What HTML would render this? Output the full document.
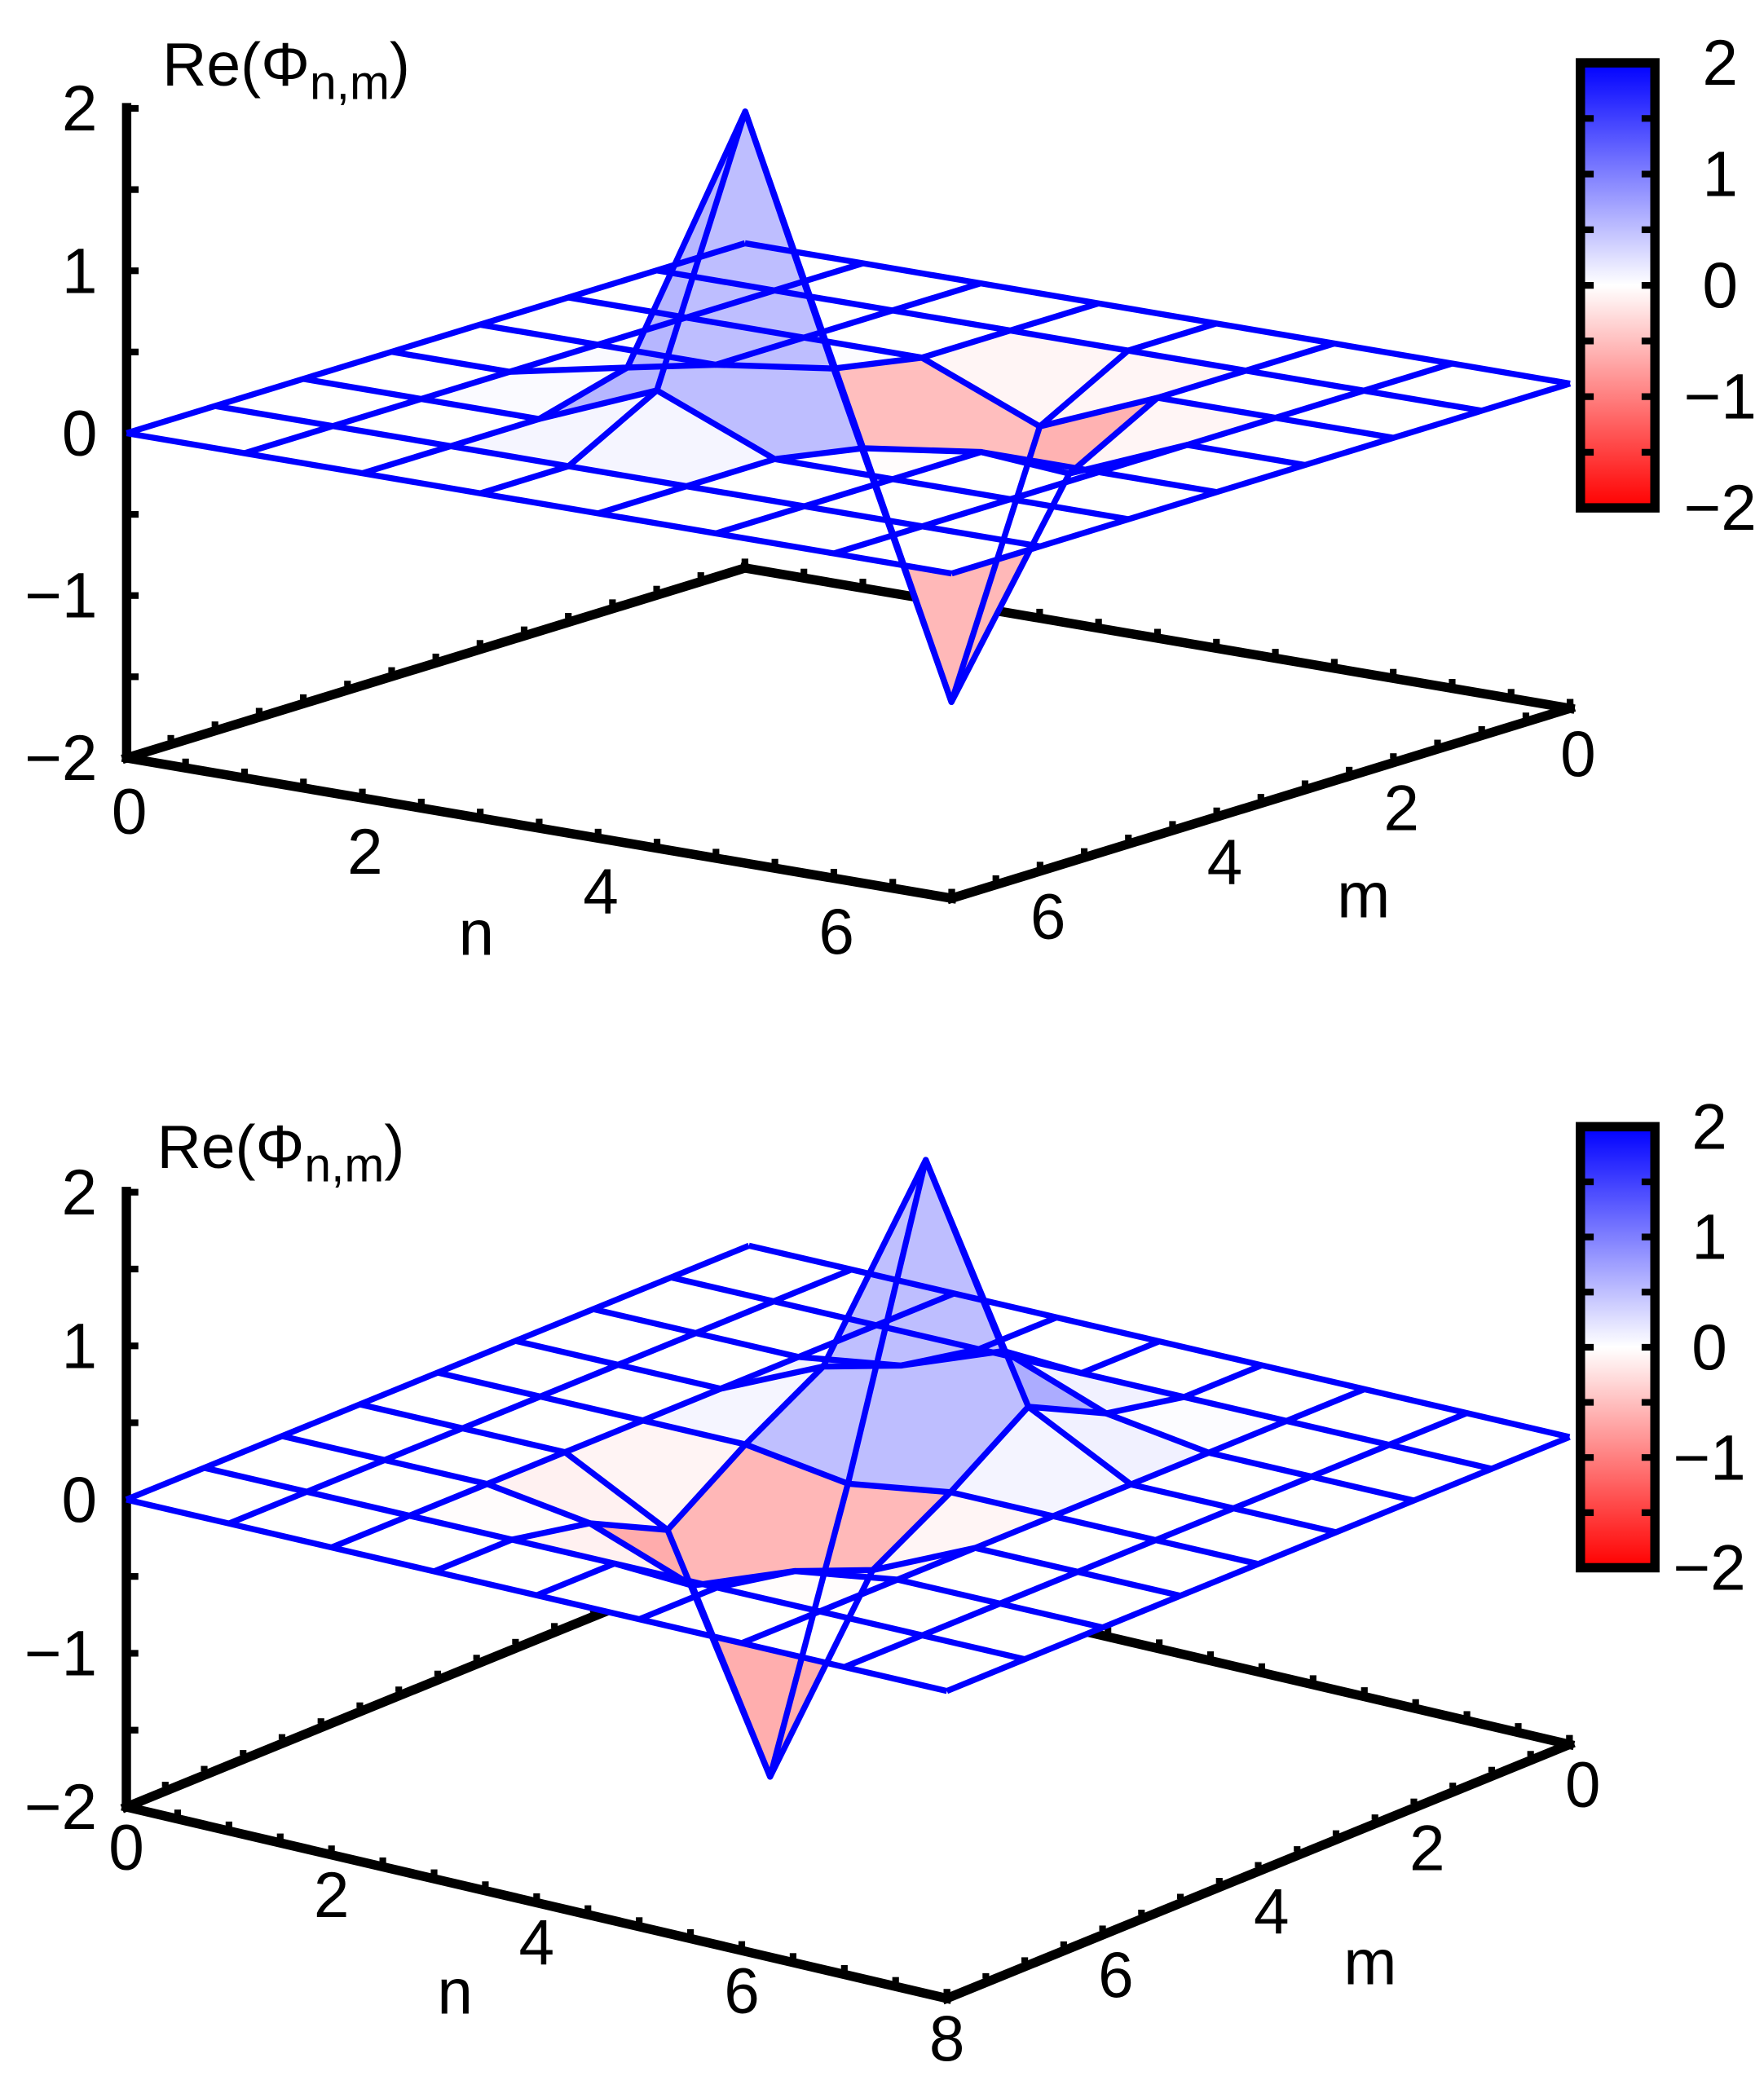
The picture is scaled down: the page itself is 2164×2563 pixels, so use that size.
<!DOCTYPE html>
<html><head><meta charset="utf-8"><style>
html,body{margin:0;padding:0;background:#fff;}
svg{display:block;font-family:"Liberation Sans",sans-serif;}
</style></head><body>
<svg id="fig" width="2164" height="2563" viewBox="0 0 1326 1563" preserveAspectRatio="none" xmlns="http://www.w3.org/2000/svg">
<defs>
<linearGradient id="cbar" x1="0" y1="0" x2="0" y2="1">
<stop offset="0" stop-color="#0000ff"/><stop offset="0.5" stop-color="#ffffff"/><stop offset="1" stop-color="#ff0000"/>
</linearGradient>
</defs>
<g id="top"></g>
<g id="bot"></g>
</svg>
<script>
// grid sizes
const topGridSize = 7;
const botGridSize = 8;
// top plot nonzero node values
const topN = [3, 4, 2, 3, 3, 4, 4, 5];
const topM = [4, 3, 4, 3, 5, 4, 2, 3];
const topZ = [1.85, -1.83, 0.15, 0.1, 0.3, -0.1, -0.3, -0.3];
// bottom plot nonzero node values
const botN = [4, 4, 4, 3, 5, 4, 4, 3, 5, 3, 5, 3, 5];
const botM = [3, 5, 2, 3, 3, 4, 6, 5, 5, 6, 2, 2, 6];
const botZ = [1.8, -1.8, 0.35, 0.3, 0.35, -0.1, -0.35, -0.35, -0.3, -0.1, 0.1, 0.1, -0.1];
// tick labels
const zTicks = [2, 1, 0, -1, -2];
const nTicksTop = [0, 2, 4, 6];
const nTicksBot = [0, 2, 4, 6, 8];
const mTicks = [0, 2, 4, 6];
const cbTicks = [2, 1, 0, -1, -2];

const NS = "http://www.w3.org/2000/svg";
function mk(parent, tag, attrs, text) {
  const e = document.createElementNS(NS, tag);
  for (const k in attrs) e.setAttribute(k, attrs[k]);
  if (text !== undefined) e.textContent = text;
  parent.appendChild(e);
  return e;
}
function fmt(v) { return v < 0 ? "\u2212" + Math.abs(v) : String(v); }

function drawPlot(g, cfg, gridSize, N, M, Z, nTicks) {
  const P = (n, m, z) => [cfg.back[0] + n * cfg.nv[0] + m * cfg.mv[0],
                          cfg.back[1] + n * cfg.nv[1] + m * cfg.mv[1] - z * cfg.zs];
  const grid = [];
  for (let i = 0; i <= gridSize; i++) { grid.push([]); for (let j = 0; j <= gridSize; j++) grid[i].push(0); }
  for (let k = 0; k < N.length; k++) grid[N[k]][M[k]] = Z[k];
  const zf = -2;
  const fl = [P(0, gridSize, zf), P(gridSize, gridSize, zf), P(gridSize, 0, zf), P(0, 0, zf)];
  const floorNames = ['n-axis', 'm-axis', 'back-right-edge', 'back-left-edge'];
  const edges = [[0, 1], [1, 2], [2, 3], [3, 0]];
  edges.forEach((e, idx) => {
    const l = mk(g, 'line', {x1: fl[e[0]][0], y1: fl[e[0]][1], x2: fl[e[1]][0], y2: fl[e[1]][1], stroke: '#000', 'stroke-width': 7, 'stroke-linecap': 'square'});
    
    
  });
  for (let i = 0; i <= gridSize * 2; i++) {
    const t = i / 2;
    const a = P(t, gridSize, zf), b = P(gridSize, gridSize - t, zf), c = P(t, 0, zf), d = P(0, t, zf);
    [a, b, c, d].forEach(p => {
      const tk = mk(g, 'line', {x1: p[0], y1: p[1] - 3, x2: p[0], y2: p[1] - 7, stroke: '#000', 'stroke-width': 5});
      
      
    });
  }
  const zb = P(0, gridSize, -2), zt = P(0, gridSize, 2);
  const za = mk(g, 'line', {x1: zb[0], y1: zb[1], x2: zt[0], y2: zt[1] - 4, stroke: '#000', 'stroke-width': 7});
  
  
  for (let v = -2; v <= 2; v += 0.5) {
    const p = P(0, gridSize, v);
    const tk = mk(g, 'line', {x1: p[0], y1: p[1], x2: p[0] + 9, y2: p[1], stroke: '#000', 'stroke-width': 5});
    
    
  }
  zTicks.forEach(v => {
    const p = P(0, gridSize, v);
    const t = mk(g, 'text', {x: p[0] - 22, y: p[1], 'font-size': 48, 'text-anchor': 'end', 'dominant-baseline': 'central'}, fmt(v));
    
    
  });
  nTicks.forEach(v => {
    const p = P(v, gridSize, zf);
    const t = mk(g, 'text', {x: p[0] + cfg.nOff[0], y: p[1] + cfg.nOff[1], 'font-size': 48, 'text-anchor': 'middle', 'dominant-baseline': 'central'}, fmt(v));
    
    
  });
  mTicks.forEach(v => {
    const p = P(gridSize, v, zf);
    const t = mk(g, 'text', {x: p[0] + cfg.mOff[0], y: p[1] + cfg.mOff[1], 'font-size': 48, 'text-anchor': 'middle', 'dominant-baseline': 'central'}, fmt(v));
    
    
  });
  const nl = mk(g, 'text', {x: cfg.nLab[0], y: cfg.nLab[1], 'font-size': 48, 'text-anchor': 'middle', 'dominant-baseline': 'central'}, 'n');
  
  
  const ml = mk(g, 'text', {x: cfg.mLab[0], y: cfg.mLab[1], 'font-size': 48, 'text-anchor': 'middle', 'dominant-baseline': 'central'}, 'm');
  
  
  const title = mk(g, 'text', {x: cfg.title[0], y: cfg.title[1], 'font-size': 46});
  
  
  title.appendChild(document.createTextNode('Re(\u03A6'));
  mk(title, 'tspan', {'font-size': 36, dy: 10}, 'n,m');
  mk(title, 'tspan', {dy: -10}, ')');
  const faces = [];
  for (let i = 0; i < gridSize; i++) for (let j = 0; j < gridSize; j++) faces.push([i, j]);
  faces.sort((a, b) => (a[0] + a[1]) - (b[0] + b[1]));
  faces.forEach(f => {
    const [i, j] = f;
    const pts = [[i, j], [i + 1, j], [i + 1, j + 1], [i, j + 1]];
    const avg = pts.reduce((s, q) => s + grid[q[0]][q[1]], 0) / 4;
    const t = Math.min(1, Math.abs(avg) / 2);
    const c = Math.round(255 - 255 * t);
    const col = avg >= 0 ? `rgb(${c},${c},255)` : `rgb(255,${c},${c})`;
    const s = pts.map(q => P(q[0], q[1], grid[q[0]][q[1]]).join(',')).join(' ');
    const poly = mk(g, 'polygon', {points: s, fill: col, stroke: 'none'});
    
    
  });
  for (let i = 0; i <= gridSize; i++) {
    const a = [], b = [];
    for (let j = 0; j <= gridSize; j++) { a.push(P(i, j, grid[i][j]).join(',')); b.push(P(j, i, grid[j][i]).join(',')); }
    const l1 = mk(g, 'polyline', {points: a.join(' '), fill: 'none', stroke: '#0000ff', 'stroke-width': 4.5, 'stroke-linejoin': 'round'});
    
    
    const l2 = mk(g, 'polyline', {points: b.join(' '), fill: 'none', stroke: '#0000ff', 'stroke-width': 4.5, 'stroke-linejoin': 'round'});
    
    
  }
  const cb = cfg.cb;
  const r = mk(g, 'rect', {x: cb.x, y: cb.y, width: cb.w, height: cb.h, fill: 'url(#cbar)', stroke: '#000', 'stroke-width': 7});
  
  
  for (let k = 0; k <= 8; k++) {
    const y = cb.y + k * cb.h / 8;
    [[cb.x, cb.x + 10], [cb.x + cb.w - 10, cb.x + cb.w]].forEach(xx => {
      const tk = mk(g, 'line', {x1: xx[0], y1: y, x2: xx[1], y2: y, stroke: '#000', 'stroke-width': 5});
      
      
    });
  }
  cbTicks.forEach(v => {
    const y = cb.y + (2 - v) / 4 * cb.h;
    const t = mk(g, 'text', {x: cb.lx, y: y, 'font-size': 48, 'text-anchor': 'middle', 'dominant-baseline': 'central'}, fmt(v));
    
    
  });
}

drawPlot(document.getElementById('top'), {
  back: [560, 182], nv: [88.6, 15], mv: [-66.4, 20.3], zs: 121.5,
  nOff: [2, 40], mOff: [6, 34], nLab: [358, 698], mLab: [1025, 670], title: [122, 64],
  cb: {x: 1188, y: 47, w: 56, h: 333, lx: 1293}
}, topGridSize, topN, topM, topZ, nTicksTop);

drawPlot(document.getElementById('bot'), {
  back: [563, 932], nv: [77.1, 17.9], mv: [-58.5, 23.75], zs: 115,
  nOff: [0, 30], mOff: [10, 30], nLab: [342, 1490], mLab: [1030, 1468], title: [118, 874],
  cb: {x: 1188, y: 843, w: 56, h: 330, lx: 1285}
}, botGridSize, botN, botM, botZ, nTicksBot);
</script>
</body></html>
